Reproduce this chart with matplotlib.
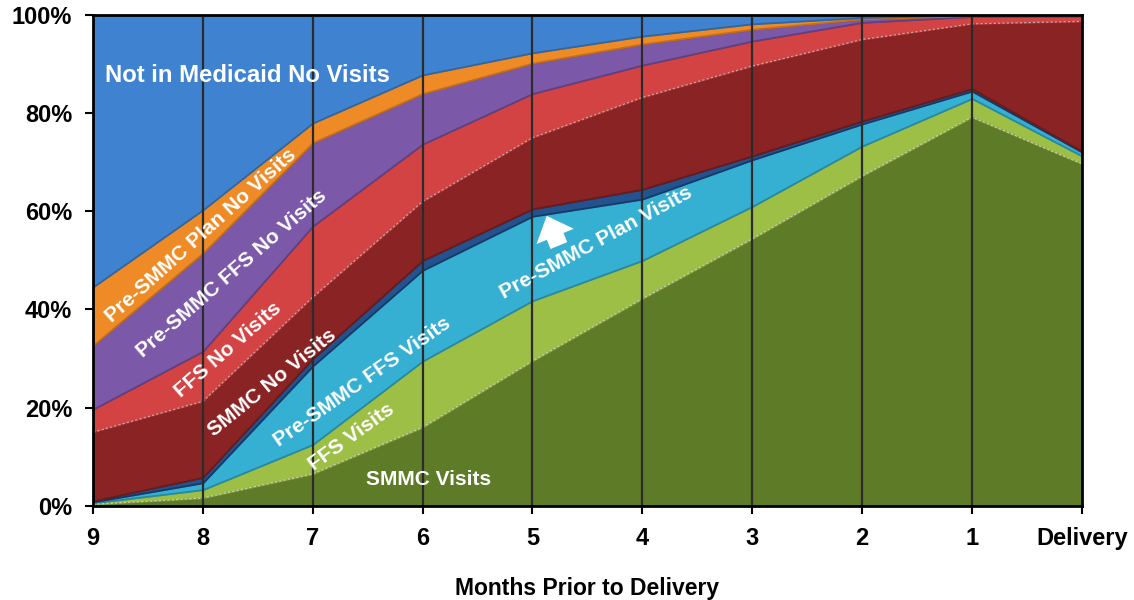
import matplotlib
matplotlib.use('Agg')
import matplotlib.pyplot as plt
import numpy as np
from matplotlib.ticker import FuncFormatter

months = ['9', '8', '7', '6', '5', '4', '3', '2', '1', 'Delivery']

# share of women (%) in each group, bottom layer first
smmc_visits = [0.3, 1.6, 6.5, 16.0, 29.5, 42.2, 54.4, 67.2, 79.2, 69.7]
ffs_visits = [0.3, 1.7, 6.0, 13.5, 12.3, 7.8, 6.6, 6.1, 3.8, 1.6]
pre_smmc_ffs_visits = [0.2, 1.4, 16.0, 18.5, 17.2, 12.5, 9.5, 4.5, 1.5, 0.8]
pre_smmc_plan_visits = [0.2, 1.1, 1.5, 2.0, 1.5, 2.0, 0.8, 0.6, 0.5, 0.2]
smmc_no_visits = [14.0, 15.5, 12.5, 12.0, 14.5, 18.7, 18.3, 16.6, 13.2, 26.4]
ffs_no_visits = [4.7, 10.2, 14.5, 11.7, 9.0, 6.6, 5.1, 3.5, 1.5, 1.1]
pre_smmc_ffs_no_visits = [13.0, 20.0, 17.0, 10.3, 6.2, 4.3, 2.4, 0.7, 0.2, 0.1]
pre_smmc_plan_no_visits = [11.9, 8.8, 4.0, 3.8, 2.1, 1.6, 1.1, 0.3, 0.1, 0.1]
not_in_medicaid = [55.4, 39.7, 22.0, 12.2, 7.7, 4.3, 1.8, 0.5, 0.0, 0.0]

layers = [smmc_visits, ffs_visits, pre_smmc_ffs_visits, pre_smmc_plan_visits,
          smmc_no_visits, ffs_no_visits, pre_smmc_ffs_no_visits,
          pre_smmc_plan_no_visits, not_in_medicaid]
colors = ['#5e7c28', '#9dbf45', '#36b0d2', '#23528f', '#8a2323',
          '#d44343', '#7c58a8', '#ee8b26', '#3f83d0']
edges = ['#4a631d', '#7e9c33', '#2689a6', '#163a68', '#6b1a1a',
         '#a83030', '#5f4183', '#c46e17', '#2f66a5']

plt.rcParams['font.family'] = ['Liberation Sans', 'DejaVu Sans']
plt.rcParams['font.weight'] = 'bold'

fig = plt.figure(figsize=(11.34, 6), dpi=100)
ax = fig.add_axes([0.082, 0.157, 0.872, 0.818])

x = np.arange(len(months))
bottom = np.zeros(len(months))
tops = []
for vals, c, ec in zip(layers, colors, edges):
    top = bottom + np.array(vals)
    ax.fill_between(x, bottom, top, facecolor=c, edgecolor=ec, linewidth=1.3, zorder=2)
    tops.append(top)
    bottom = top

# light dotted seams on the SMMC layers
ax.plot(x, tops[0], color='#c9c9b8', lw=0.9, ls=(0, (2, 1.5)), zorder=3)
ax.plot(x, tops[4], color='#c9a0a0', lw=0.9, ls=(0, (2, 1.5)), zorder=3)

# vertical month lines
for xi in x[1:-1]:
    ax.axvline(xi, color='#2b2b2b', lw=1.6, zorder=4)

ax.set_xlim(0, 9)
ax.set_ylim(0, 100)
ax.set_xticks(x)
ax.set_xticklabels(months)
ax.set_yticks(np.arange(0, 101, 20))
ax.yaxis.set_major_formatter(FuncFormatter(lambda v, p: '%d%%' % v))
ax.tick_params(axis='both', direction='out', length=6, width=1.5, labelsize=17, pad=9)
for sp in ax.spines.values():
    sp.set_linewidth(2)
    sp.set_color('black')
    sp.set_zorder(5)
ax.set_xlabel('Months Prior to Delivery', fontsize=16.5, fontweight='bold', labelpad=20)

lab = dict(color='white', fontweight='bold', ha='center', va='center',
           rotation_mode='anchor', zorder=6)
ax.text(0.11, 87.6, 'Not in Medicaid No Visits', fontsize=17.2, color='white',
        fontweight='bold', ha='left', va='center', zorder=6)
ax.text(0.98, 55.0, 'Pre-SMMC Plan No Visits', fontsize=15, rotation=42, **lab)
ax.text(1.26, 47.3, 'Pre-SMMC FFS No Visits', fontsize=15, rotation=41, **lab)
ax.text(1.23, 31.8, 'FFS No Visits', fontsize=15, rotation=41, **lab)
ax.text(1.63, 25.0, 'SMMC No Visits', fontsize=15, rotation=39, **lab)
ax.text(2.45, 25.3, 'Pre-SMMC FFS Visits', fontsize=15, rotation=35, **lab)
ax.text(2.35, 14.0, 'FFS Visits', fontsize=15, rotation=36, **lab)
ax.text(3.05, 5.4, 'SMMC Visits', fontsize=15, **lab)
ax.text(4.58, 53.6, 'Pre-SMMC Plan Visits', fontsize=15, rotation=28.5, **lab)

ax.annotate('', xy=(4.12, 59.6), xytext=(4.25, 52.5),
            arrowprops=dict(arrowstyle='simple,head_width=1.45,head_length=0.8,tail_width=0.65',
                            color='white', lw=0, mutation_scale=20), zorder=6)

fig.savefig('out.png', dpi=100)
